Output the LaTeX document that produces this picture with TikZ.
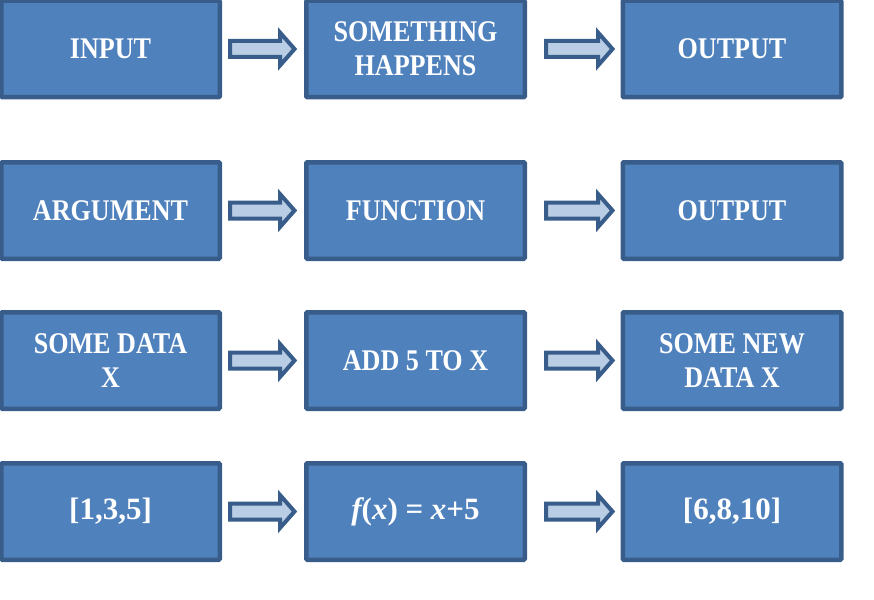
\documentclass[tikz,border=0pt]{standalone}
\usepackage{fontspec}
\setmainfont{Liberation Serif}[FakeStretch=0.87]
\newfontfamily\widefont{Liberation Serif}
\definecolor{boxfill}{HTML}{4F81BD}
\definecolor{boxline}{HTML}{385D8A}
\definecolor{arrfill}{HTML}{B9CDE5}
\tikzset{
  blockbox/.style={draw=boxline, fill=boxfill, line width=4.5pt, rounded corners=1pt,
    minimum width=218.5pt, minimum height=96.5pt, inner sep=0pt, outer sep=0pt,
    text=white, align=center, font=\bfseries\fontsize{30}{34}\selectfont},
  numbox/.style={blockbox, font=\widefont\bfseries\fontsize{31}{34}\selectfont},
  blockarrow/.style={draw=boxline, fill=arrfill, line width=4pt, line join=miter}
}
\begin{document}
\begin{tikzpicture}[x=1pt,y=-1pt]
\useasboundingbox (0,0) rectangle (874,599);
% row 1
\node[blockbox] (in1)  at (110.5,49) {INPUT};
\node[blockbox] (mid1) at (415.5,49) {SOMETHING\\HAPPENS};
\node[blockbox] (out1) at (732,49)   {OUTPUT};
% row 2
\node[blockbox] (in2)  at (110.5,210.5) {ARGUMENT};
\node[blockbox] (mid2) at (415.5,210.5) {FUNCTION};
\node[blockbox] (out2) at (732,210.5)   {OUTPUT};
% row 3
\node[blockbox] (in3)  at (110.5,360.5) {SOME DATA\\X};
\node[blockbox] (mid3) at (415.5,360.5) {ADD 5 TO X};
\node[blockbox] (out3) at (732,360.5)   {SOME NEW\\DATA X};
% row 4
\node[numbox] (in4)  at (110.5,511.5) {[1,3,5]};
\node[numbox] (mid4) at (415.5,511.5) {{\itshape f}({\itshape x}) = {\itshape x}+5};
\node[numbox] (out4) at (732,511.5)   {[6,8,10]};
% block arrows
\foreach \yy in {49,210.5,360.5,511.5}{
  \draw[blockarrow] (230,{\yy-8}) -- (280,{\yy-8}) -- (280,{\yy-16.5}) -- (294.5,\yy)
     -- (280,{\yy+16.5}) -- (280,{\yy+8}) -- (230,{\yy+8}) -- cycle;
  \draw[blockarrow] (546,{\yy-8}) -- (598,{\yy-8}) -- (598,{\yy-16.5}) -- (612.5,\yy)
     -- (598,{\yy+16.5}) -- (598,{\yy+8}) -- (546,{\yy+8}) -- cycle;
}
\end{tikzpicture}
\end{document}
